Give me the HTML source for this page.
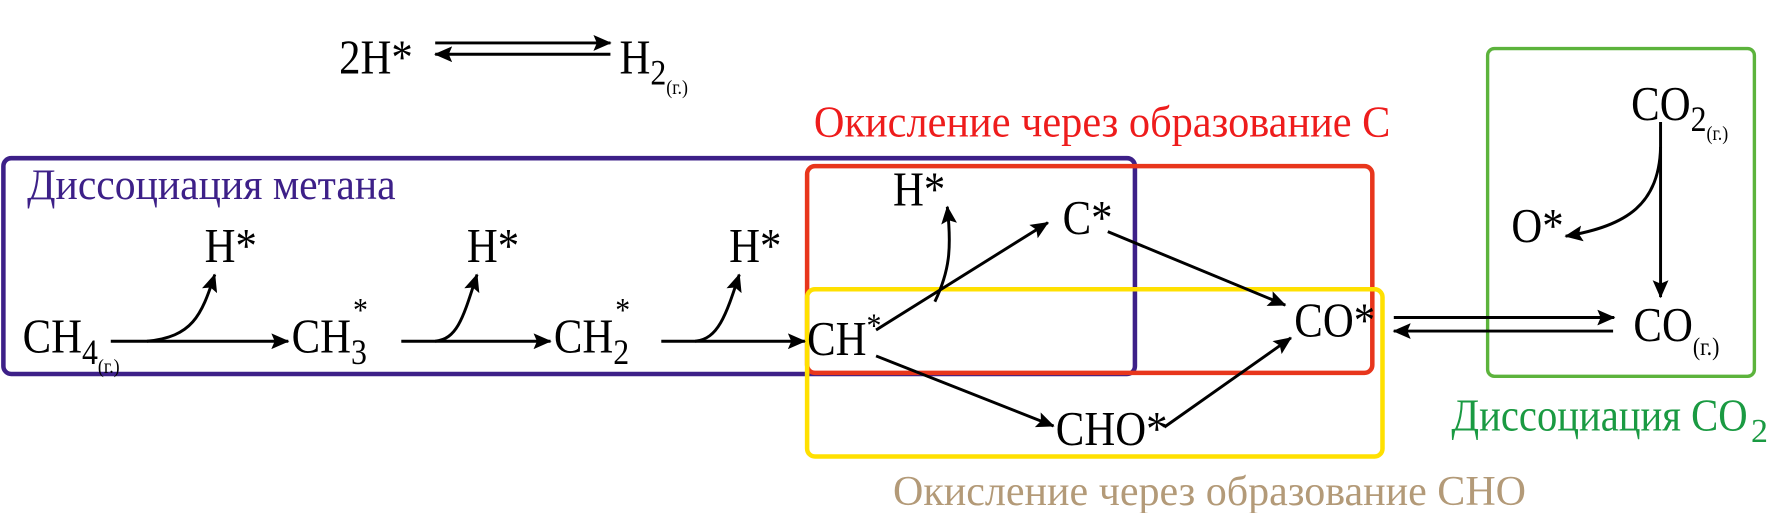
<!DOCTYPE html>
<html><head><meta charset="utf-8"><style>
html,body{margin:0;padding:0;background:#fff;overflow:hidden;}
svg{display:block;}
text{font-family:"Liberation Serif",serif;}
.c{transform-box:fill-box;transform-origin:0 100%;transform:scaleX(.88);}
</style></head><body>
<svg width="1777" height="513" viewBox="0 0 1572 454" preserveAspectRatio="none" xmlns="http://www.w3.org/2000/svg">
<defs>
<marker id="b" markerWidth="16" markerHeight="14" refX="15" refY="7" orient="auto" markerUnits="userSpaceOnUse" viewBox="0 0 16 14">
<path d="M0,0 L16,7 L0,14 L3,7 z" fill="#000"/></marker>
</defs>
<!-- boxes -->
<rect x="3" y="140" width="1001" height="191" rx="7" fill="none" stroke="#3d2088" stroke-width="4"/>
<rect x="714" y="147" width="500" height="183" rx="7" fill="none" stroke="#e8361c" stroke-width="4"/>
<rect x="714" y="256" width="509" height="148" rx="7" fill="none" stroke="#ffe000" stroke-width="4"/>
<rect x="1316" y="43" width="236" height="290" rx="6" fill="none" stroke="#5cb33c" stroke-width="3"/>
<!-- titles -->
<text x="24" y="176" font-size="38" fill="#3d2088" textLength="326" lengthAdjust="spacingAndGlyphs">Диссоциация метана</text>
<text x="720" y="121" font-size="39" fill="#ee1c1c" textLength="510" lengthAdjust="spacingAndGlyphs">Окисление через образование С</text>
<text x="790" y="447" font-size="37" fill="#b39a78" textLength="560" lengthAdjust="spacingAndGlyphs">Окисление через образование СНО</text>
<text x="1284" y="381" font-size="40" fill="#1a9a42" textLength="262" lengthAdjust="spacingAndGlyphs">Диссоциация CO</text>
<text x="1549" y="391" font-size="30" fill="#1a9a42">2</text>
<!-- species -->
<g font-size="43" fill="#000">
<text class="c" x="300" y="65">2H*</text>
<text class="c" x="548" y="65">H<tspan font-size="32" dy="10">2</tspan><tspan font-size="18" dy="8">(г.)</tspan></text>
<text class="c" x="20" y="312">CH<tspan font-size="32" dy="10">4</tspan><tspan font-size="18" dy="8">(г.)</tspan></text>
<text class="c" x="258" y="312">CH<tspan font-size="32" dy="10">3</tspan><tspan font-size="30" dx="-14" dy="-38">*</tspan></text>
<text class="c" x="490" y="312">CH<tspan font-size="32" dy="10">2</tspan><tspan font-size="30" dx="-14" dy="-38">*</tspan></text>
<text class="c" x="714" y="314">CH<tspan font-size="30" dy="-16">*</tspan></text>
<text class="c" x="181" y="232">H*</text>
<text class="c" x="413" y="232">H*</text>
<text class="c" x="645" y="232">H*</text>
<text class="c" x="790" y="182">H*</text>
<text class="c" x="940" y="207">C*</text>
<text class="c" x="1145" y="298">CO*</text>
<text class="c" x="934" y="394">CHO*</text>
<text class="c" x="1443" y="106">CO<tspan font-size="32" dy="10">2</tspan><tspan font-size="18" dy="8">(г.)</tspan></text>
<text class="c" x="1337" y="214">O*</text>
<text class="c" x="1445" y="302">CO<tspan font-size="22" dy="12">(г.)</tspan></text>
</g>
<!-- arrows -->
<g stroke="#000" stroke-width="2.6" fill="none">
<line x1="385" y1="38" x2="540" y2="38" marker-end="url(#b)"/>
<line x1="540" y1="48" x2="385" y2="48" marker-end="url(#b)"/>
<line x1="98" y1="302" x2="255" y2="302" marker-end="url(#b)"/>
<path d="M130,302 C170,298 178,280 190,243" marker-end="url(#b)"/>
<line x1="355" y1="302" x2="487" y2="302" marker-end="url(#b)"/>
<path d="M385,302 C405,300 410,280 422,243" marker-end="url(#b)"/>
<line x1="585" y1="302" x2="712" y2="302" marker-end="url(#b)"/>
<path d="M615,302 C635,300 642,280 654,243" marker-end="url(#b)"/>
<line x1="775" y1="292" x2="927" y2="197" marker-end="url(#b)"/>
<path d="M827,267 C840,240 842,220 838,183" marker-end="url(#b)"/>
<line x1="775" y1="315" x2="932" y2="377" marker-end="url(#b)"/>
<line x1="980" y1="205" x2="1137" y2="270" marker-end="url(#b)"/>
<line x1="1030" y1="378" x2="1142" y2="299" marker-end="url(#b)"/>
<line x1="1233" y1="281" x2="1428" y2="281" marker-end="url(#b)"/>
<line x1="1427" y1="293" x2="1233" y2="293" marker-end="url(#b)"/>
<line x1="1469" y1="108" x2="1469" y2="263" marker-end="url(#b)"/>
<path d="M1469,130 C1468,180 1440,200 1385,209" marker-end="url(#b)"/>
</g>
</svg>
</body></html>
